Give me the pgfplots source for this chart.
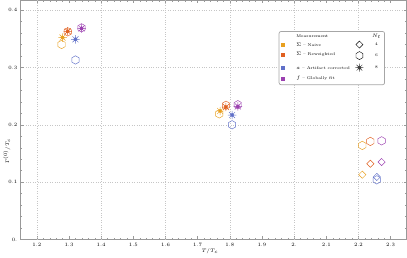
\documentclass[border=0pt]{standalone}
\usepackage{pgfplots}
\pgfplotsset{compat=1.18}
\definecolor{cna}{HTML}{E8A020}
\definecolor{crw}{HTML}{E06020}
\definecolor{car}{HTML}{6070C8}
\definecolor{cgf}{HTML}{9B40B0}
\pgfdeclareplotmark{hexagon}{%
 \pgfpathmoveto{\pgfqpointpolar{90}{\pgfplotmarksize}}%
 \pgfpathlineto{\pgfqpointpolar{150}{\pgfplotmarksize}}%
 \pgfpathlineto{\pgfqpointpolar{210}{\pgfplotmarksize}}%
 \pgfpathlineto{\pgfqpointpolar{270}{\pgfplotmarksize}}%
 \pgfpathlineto{\pgfqpointpolar{330}{\pgfplotmarksize}}%
 \pgfpathlineto{\pgfqpointpolar{30}{\pgfplotmarksize}}%
 \pgfpathclose\pgfusepathqstroke}
\pgfdeclareplotmark{rdiamond}{%
 \pgfpathmoveto{\pgfqpointpolar{90}{\pgfplotmarksize}}%
 \pgfpathlineto{\pgfqpointpolar{180}{\pgfplotmarksize}}%
 \pgfpathlineto{\pgfqpointpolar{270}{\pgfplotmarksize}}%
 \pgfpathlineto{\pgfqpointpolar{0}{\pgfplotmarksize}}%
 \pgfpathclose\pgfusepathqstroke}
\pgfdeclareplotmark{star8}{%
 \pgfpathmoveto{\pgfqpointpolar{0}{\pgfplotmarksize}}\pgfpathlineto{\pgfqpointpolar{180}{\pgfplotmarksize}}%
 \pgfpathmoveto{\pgfqpointpolar{45}{\pgfplotmarksize}}\pgfpathlineto{\pgfqpointpolar{225}{\pgfplotmarksize}}%
 \pgfpathmoveto{\pgfqpointpolar{90}{\pgfplotmarksize}}\pgfpathlineto{\pgfqpointpolar{270}{\pgfplotmarksize}}%
 \pgfpathmoveto{\pgfqpointpolar{135}{\pgfplotmarksize}}\pgfpathlineto{\pgfqpointpolar{315}{\pgfplotmarksize}}%
 \pgfpathcircle{\pgfpointorigin}{0.45\pgfplotmarksize}%
 \pgfusepathqstroke}
\begin{document}
\begin{tikzpicture}
\begin{axis}[
  scale only axis, width=384pt, height=238pt,
  xmin=1.15, xmax=2.35, ymin=0, ymax=0.417,
  font=\fontsize{5}{6}\selectfont,
  xtick={1.2,1.3,1.4,1.5,1.6,1.7,1.8,1.9,2.0,2.1,2.2,2.3},
  xticklabels={1.2,1.3,1.4,1.5,1.6,1.7,1.8,1.9,2.,2.1,2.2,2.3},
  ytick={0,0.1,0.2,0.3,0.4},
  yticklabels={0.,0.1,0.2,0.3,0.4},
  minor x tick num=4, minor y tick num=4,
  major tick length=3pt, minor tick length=1.6pt,
  axis line style={draw=gray!80, line width=0.6pt},
  tick style={gray!80, line width=0.4pt},
  every tick label/.append style={black},
  extra x ticks={1.2,1.4,1.6,1.8,2.0,2.2},
  extra x tick labels={},
  extra x tick style={xmajorgrids=true, major tick length=0pt},
  ymajorgrids=true,
  grid style={dotted, gray!45, line width=0.5pt},
  xlabel={$T/T_c$},
  ylabel={$\Gamma^{(0)}/T_c$},
  xlabel style={at={(axis description cs:0.49,-0.05)}, anchor=center},
  ylabel style={at={(axis description cs:-0.036,0.37)}, anchor=center},
  mark size=4.2pt,
  every axis plot/.append style={only marks, line width=0.45pt},
]
% Naive
\addplot[cna, mark=hexagon] coordinates {(1.277,0.340) (1.767,0.219) (2.212,0.164)};
\addplot[cna, mark=star8] coordinates {(1.280,0.352) (1.770,0.224)};
\addplot[cna, mark=rdiamond, mark size=3.6pt] coordinates {(2.212,0.113)};
% Reweighted
\addplot[crw, mark=hexagon] coordinates {(1.296,0.362) (1.788,0.234) (2.237,0.171)};
\addplot[crw, mark=star8] coordinates {(1.296,0.363) (1.788,0.231)};
\addplot[crw, mark=rdiamond, mark size=3.6pt] coordinates {(2.237,0.132)};
% Artifact corrected
\addplot[car, mark=hexagon] coordinates {(1.320,0.313) (1.807,0.200) (2.257,0.104)};
\addplot[car, mark=star8] coordinates {(1.320,0.349) (1.807,0.217)};
\addplot[car, mark=rdiamond, mark size=3.6pt] coordinates {(2.257,0.109)};
% Globally fit
\addplot[cgf, mark=hexagon] coordinates {(1.339,0.369) (1.825,0.235) (2.272,0.172)};
\addplot[cgf, mark=star8] coordinates {(1.339,0.368) (1.825,0.232)};
\addplot[cgf, mark=rdiamond, mark size=3.6pt] coordinates {(2.272,0.135)};
\coordinate (O) at (axis cs:1.084375,0.417);
\end{axis}
\begin{scope}[shift={(O)}, x=1pt, y=-1pt, font=\fontsize{4}{5}\selectfont]
\draw[gray!70, line width=0.7pt, rounded corners=2pt, fill=white] (278,31) rectangle (383,84);
\node[anchor=west, inner sep=0pt] at (295,36) {Measurement};
\node[inner sep=0pt] at (375,36) {$N_t$};
\fill[cna] (280,42) rectangle (284,46);
\fill[crw] (280,52) rectangle (284,56);
\fill[car] (280,65) rectangle (284,69);
\fill[cgf] (280,76) rectangle (284,80);
\node[anchor=west, inner sep=0pt] at (295,44) {$\Sigma$ -- Naive};
\node[anchor=west, inner sep=0pt] at (295,54) {$\Sigma$ -- Reweighted};
\node[anchor=west, inner sep=0pt] at (295,67) {$a$ -- Artifact corrected};
\node[anchor=west, inner sep=0pt] at (295,78) {$f$ -- Globally fit};
\draw[black, line width=0.4pt] (358,40.5)--(361.5,44)--(358,47.5)--(354.5,44)--cycle;
\draw[black, line width=0.4pt] (358,51)--(361.46,53)--(361.46,57)--(358,59)--(354.54,57)--(354.54,53)--cycle;
\draw[gray!50!black, line width=0.5pt] (354,67)--(362,67) (358,63)--(358,71) (355.17,64.17)--(360.83,69.83) (355.17,69.83)--(360.83,64.17) (358,67) circle (1.8);
\node[inner sep=0pt] at (375,44) {4};
\node[inner sep=0pt] at (375,55) {6};
\node[inner sep=0pt] at (375,67) {8};
\end{scope}
\end{tikzpicture}
\end{document}
